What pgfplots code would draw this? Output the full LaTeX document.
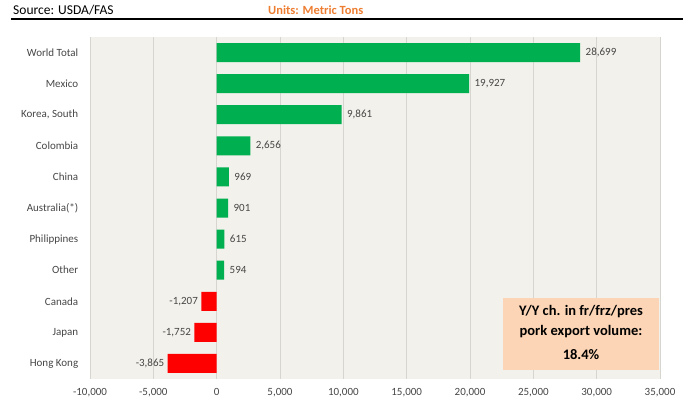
\documentclass[border=0pt]{standalone}
\usepackage{fontspec}
\setmainfont{Carlito}
\usepackage{pgfplots}
\pgfplotsset{compat=1.18}
\definecolor{bggray}{RGB}{243,241,235}
\definecolor{gridc}{RGB}{215,213,208}
\definecolor{barg}{RGB}{0,176,80}
\definecolor{barr}{RGB}{255,0,0}
\definecolor{txtg}{RGB}{70,70,70}
\definecolor{unitor}{RGB}{237,125,49}
\definecolor{peach}{RGB}{251,213,181}
\begin{document}
\begin{tikzpicture}
\useasboundingbox (0pt,0pt) rectangle (683pt,400pt);
\node[anchor=base west, inner sep=0pt, font=\fontsize{13.5}{15}\selectfont] at (13pt,385pt) {Source: USDA/FAS};
\node[anchor=base west, inner sep=0pt, font=\fontsize{12.5}{14}\selectfont\bfseries, text=unitor] at (268pt,385pt) {Units: Metric Tons};
\draw[line width=1.6pt] (11pt,381pt) -- (683pt,381pt);
\begin{axis}[
  at={(90pt,363pt)}, anchor=north west,
  scale only axis, width=570pt, height=342pt,
  xmin=-10000, xmax=35000, ymin=-0.5, ymax=10.5, y dir=reverse,
  xbar, bar width=19pt, bar shift=0pt,
  axis background/.style={fill=bggray},
  xmajorgrids, grid style={gridc, line width=0.8pt},
  axis line style={draw=none}, tick style={draw=none},
  scaled x ticks=false,
  xtick={-10000,-5000,...,35000},
  ytick={0,...,10},
  yticklabels={World Total, Mexico, {Korea, South}, Colombia, China, Australia(*), Philippines, Other, Canada, Japan, Hong Kong},
  /pgf/number format/.cd, fixed, 1000 sep={,}, assume math mode=true,
  /pgfplots/.cd,
  ticklabel style={font=\fontsize{11}{13}\selectfont, text=txtg},
  xticklabel style={yshift=-6pt},
  yticklabel style={xshift=-4pt},
  nodes near coords={\pgfmathprintnumber[fixed,1000 sep={,},assume math mode=true]{\pgfplotspointmeta}},
  nodes near coords style={font=\fontsize{11}{13}\selectfont, text=txtg},
  clip=false,
]
\addplot[fill=barg, draw=none, nodes near coords style={xshift=2pt}] coordinates {
 (28699,0) (19927,1) (9861,2) (2656,3) (969,4) (901,5) (615,6) (594,7)};
\addplot[fill=barr, draw=none, nodes near coords align={left}] coordinates {
 (-1207,8) (-1752,9) (-3865,10)};
\end{axis}
\fill[peach] (503pt,30pt) rectangle (659pt,102pt);
\node[font=\fontsize{14.5}{16}\selectfont\bfseries] at (581pt,88pt) {Y/Y ch. in fr/frz/pres};
\node[font=\fontsize{14.5}{16}\selectfont\bfseries] at (581pt,68pt) {pork export volume:};
\node[font=\fontsize{14.5}{16}\selectfont\bfseries] at (581pt,45pt) {18.4\%};
\end{tikzpicture}
\end{document}
